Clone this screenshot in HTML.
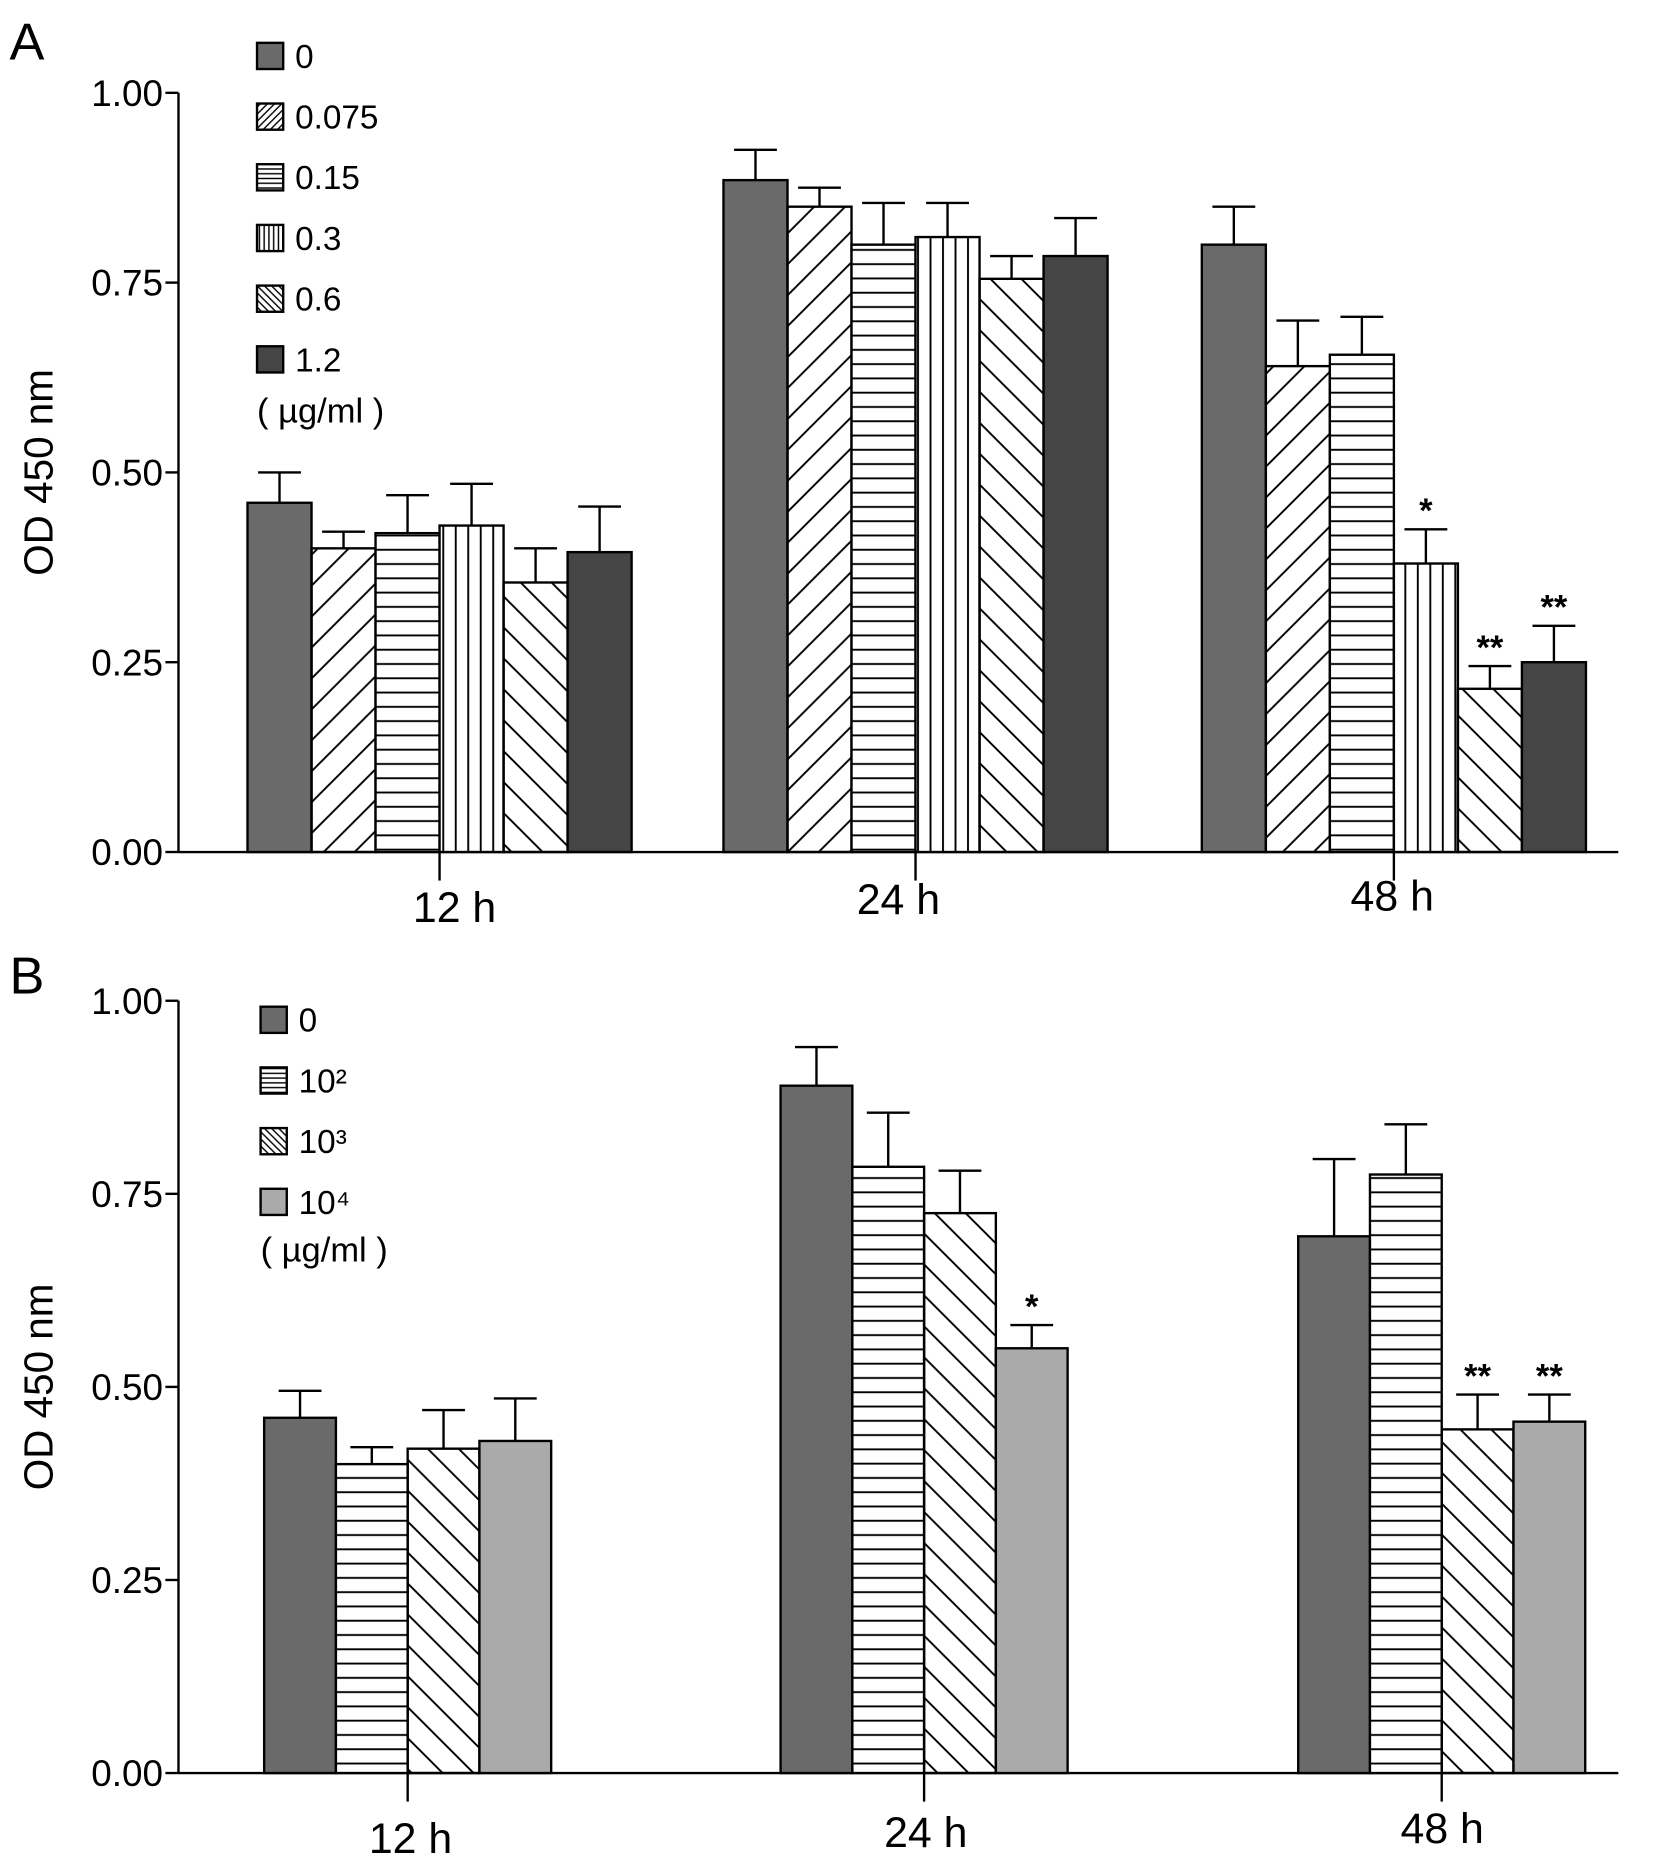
<!DOCTYPE html>
<html><head><meta charset="utf-8"><style>
html,body{margin:0;padding:0;background:#fff;}
svg{display:block;}
text{font-family:"Liberation Sans",Arial,sans-serif;fill:#000;}
</style></head><body>
<svg id="fig" width="1654" height="1863" viewBox="0 0 1390 1565.6" preserveAspectRatio="none" xmlns="http://www.w3.org/2000/svg">
<defs>
<pattern id="p-fwd" patternUnits="userSpaceOnUse" width="26" height="26"><path d="M-2,28 L28,-2 M-15,15 L15,-15 M11,41 L41,11" stroke="#000" stroke-width="1.6"/></pattern>
<pattern id="p-hor" patternUnits="userSpaceOnUse" width="12" height="12"><rect width="12" height="12" fill="#fff"/><line x1="0" y1="6" x2="12" y2="6" stroke="#000" stroke-width="1.6"/></pattern>
<pattern id="p-ver" patternUnits="userSpaceOnUse" width="10.5" height="10"><rect width="10.5" height="10" fill="#fff"/><line x1="5" y1="0" x2="5" y2="10" stroke="#000" stroke-width="1.6"/></pattern>
<pattern id="p-back" patternUnits="userSpaceOnUse" width="26" height="26"><path d="M-2,-2 L28,28 M-15,11 L15,41 M11,-15 L41,15" stroke="#000" stroke-width="1.6"/></pattern>
<pattern id="l-fwd" patternUnits="userSpaceOnUse" width="6" height="6"><path d="M-1,7 L7,-1 M-4,4 L4,-4 M2,10 L10,2" stroke="#000" stroke-width="1.2"/></pattern>
<pattern id="l-hor" patternUnits="userSpaceOnUse" width="4" height="4"><rect width="4" height="4" fill="#fff"/><line x1="0" y1="2" x2="4" y2="2" stroke="#000" stroke-width="1.2"/></pattern>
<pattern id="l-ver" patternUnits="userSpaceOnUse" width="4" height="4"><rect width="4" height="4" fill="#fff"/><line x1="2" y1="0" x2="2" y2="4" stroke="#000" stroke-width="1.2"/></pattern>
<pattern id="l-back" patternUnits="userSpaceOnUse" width="6" height="6"><path d="M-1,-1 L7,7 M-4,2 L4,10 M2,-4 L10,4" stroke="#000" stroke-width="1.2"/></pattern>
</defs>
</svg>
<script>
// Panel A data
const catsA = ["12 h", "24 h", "48 h"];
const seriesA = ["0", "0.075", "0.15", "0.3", "0.6", "1.2"];
const meanA_0 = [0.46, 0.885, 0.80];
const meanA_0075 = [0.40, 0.85, 0.64];
const meanA_015 = [0.42, 0.80, 0.655];
const meanA_03 = [0.43, 0.81, 0.38];
const meanA_06 = [0.355, 0.755, 0.215];
const meanA_12 = [0.395, 0.785, 0.25];
const errA_0 = [0.04, 0.04, 0.05];
const errA_0075 = [0.022, 0.025, 0.06];
const errA_015 = [0.05, 0.055, 0.05];
const errA_03 = [0.055, 0.045, 0.045];
const errA_06 = [0.045, 0.03, 0.03];
const errA_12 = [0.06, 0.05, 0.048];
const starsA = [["","","","","",""],["","","","","",""],["","","","*","**","**"]];
// Panel B data
const catsB = ["12 h", "24 h", "48 h"];
const seriesB = ["0", "10²", "10³", "10⁴"];
const meanB_0 = [0.46, 0.89, 0.695];
const meanB_102 = [0.40, 0.785, 0.775];
const meanB_103 = [0.42, 0.725, 0.445];
const meanB_104 = [0.43, 0.55, 0.455];
const errB_0 = [0.035, 0.05, 0.10];
const errB_102 = [0.022, 0.07, 0.065];
const errB_103 = [0.05, 0.055, 0.045];
const errB_104 = [0.055, 0.03, 0.035];
const starsB = [["","","",""],["","","","*"],["","","**","**"]];
const yTicks = [0, 0.25, 0.5, 0.75, 1.0];
const yTickLabels = ["0.00", "0.25", "0.50", "0.75", "1.00"];

const NS = "http://www.w3.org/2000/svg";
const svg = document.getElementById("fig");
function mk(tag, attrs, parent) {
  const e = document.createElementNS(NS, tag);
  for (const k in attrs) e.setAttribute(k, attrs[k]);
  (parent || svg).appendChild(e);
  return e;
}

function panel(cfg) {
  const g = mk("g", {});
  
  
  const y = v => cfg.y0 - (cfg.y0 - cfg.y1) * v;
  const L = mk("text", {x: 8, y: cfg.letterY, "font-size": 44}, g);
  L.textContent = cfg.letter;
  
  
  const yt = mk("text", {x: 0, y: 0, "font-size": 34, "text-anchor": "middle", transform: `translate(44,${(cfg.y0 + cfg.y1) / 2}) rotate(-90)`}, g);
  yt.textContent = "OD 450 nm";
  
  
  const ya = mk("line", {x1: 150, y1: cfg.y1, x2: 150, y2: cfg.y0, stroke: "#000", "stroke-width": 2}, g);
  
  
  yTicks.forEach((t, i) => {
    const tk = mk("line", {x1: 139, y1: y(t), x2: 150, y2: y(t), stroke: "#000", "stroke-width": 2}, g);
    
    
    const tl = mk("text", {x: 137, y: y(t) + 11, "font-size": 31, "text-anchor": "end"}, g);
    tl.textContent = yTickLabels[i];
    
    
  });
  const xa = mk("line", {x1: 150, y1: cfg.y0, x2: 1360, y2: cfg.y0, stroke: "#000", "stroke-width": 2}, g);
  
  
  const ns = cfg.means.length;
  cfg.cats.forEach((c, ci) => {
    const gx = cfg.groupX[ci];
    const tx = gx + cfg.bw * Math.floor(ns / 2);
    const tk = mk("line", {x1: tx, y1: cfg.y0, x2: tx, y2: cfg.y0 + 24, stroke: "#000", "stroke-width": 2}, g);
    
    
    const cl = mk("text", {x: cfg.labelX[ci], y: cfg.labelY[ci], "font-size": 36, "text-anchor": "middle"}, g);
    cl.textContent = c;
    
    
    for (let s = 0; s < ns; s++) {
      const v = cfg.means[s][ci], e = cfg.errs[s][ci];
      const x = gx + s * cfg.bw;
      const cx = x + cfg.bw / 2;
      const eb = mk("path", {d: `M${cx},${y(v)} V${y(v + e)} M${cx - 18},${y(v + e)} H${cx + 18}`, stroke: "#000", "stroke-width": 2, fill: "none"}, g);
      
      
      const r = mk("rect", {x: x, y: y(v), width: cfg.bw, height: y(0) - y(v), fill: cfg.fills[s], stroke: "#000", "stroke-width": 2}, g);
      
      
      const st = cfg.stars[ci][s];
      if (st) {
        const t = mk("text", {x: cx, y: y(v + e) - 6, "font-size": 29, "font-weight": "bold", "text-anchor": "middle"}, g);
        t.textContent = st;
        
        
      }
    }
  });
  cfg.series.forEach((s, i) => {
    const cy = cfg.legY + i * 51;
    const sw = mk("rect", {x: cfg.legX, y: cy - 11, width: 22, height: 22, fill: cfg.legFills[i], stroke: "#000", "stroke-width": 2}, g);
    
    
    const t = mk("text", {x: cfg.legX + 32, y: cy + 10, "font-size": 28}, g);
    t.textContent = s;
    
    
  });
  const u = mk("text", {x: cfg.legX, y: cfg.unitY, "font-size": 29}, g);
  u.textContent = "( µg/ml )";
  
  
}

panel({
  name: "panel-a", letter: "A", letterY: 50, y0: 716, y1: 78,
  cats: catsA, series: seriesA,
  means: [meanA_0, meanA_0075, meanA_015, meanA_03, meanA_06, meanA_12],
  errs: [errA_0, errA_0075, errA_015, errA_03, errA_06, errA_12],
  stars: starsA,
  fills: ["#6a6a6a", "url(#p-fwd)", "url(#p-hor)", "url(#p-ver)", "url(#p-back)", "#454545"],
  legFills: ["#6a6a6a", "url(#l-fwd)", "url(#l-hor)", "url(#l-ver)", "url(#l-back)", "#454545"],
  groupX: [208, 608, 1010], bw: 53.8,
  labelX: [382, 755, 1170], labelY: [775, 768, 765],
  legX: 216, legY: 47, unitY: 355
});
panel({
  name: "panel-b", letter: "B", letterY: 835, y0: 1490, y1: 841,
  cats: catsB, series: seriesB,
  means: [meanB_0, meanB_102, meanB_103, meanB_104],
  errs: [errB_0, errB_102, errB_103, errB_104],
  stars: starsB,
  fills: ["#6a6a6a", "url(#p-hor)", "url(#p-back)", "#aaaaaa"],
  legFills: ["#6a6a6a", "url(#l-hor)", "url(#l-back)", "#aaaaaa"],
  groupX: [222, 656, 1091], bw: 60.3,
  labelX: [345, 778, 1212], labelY: [1557, 1552, 1549],
  legX: 219, legY: 857, unitY: 1060
});
</script>
</body></html>
